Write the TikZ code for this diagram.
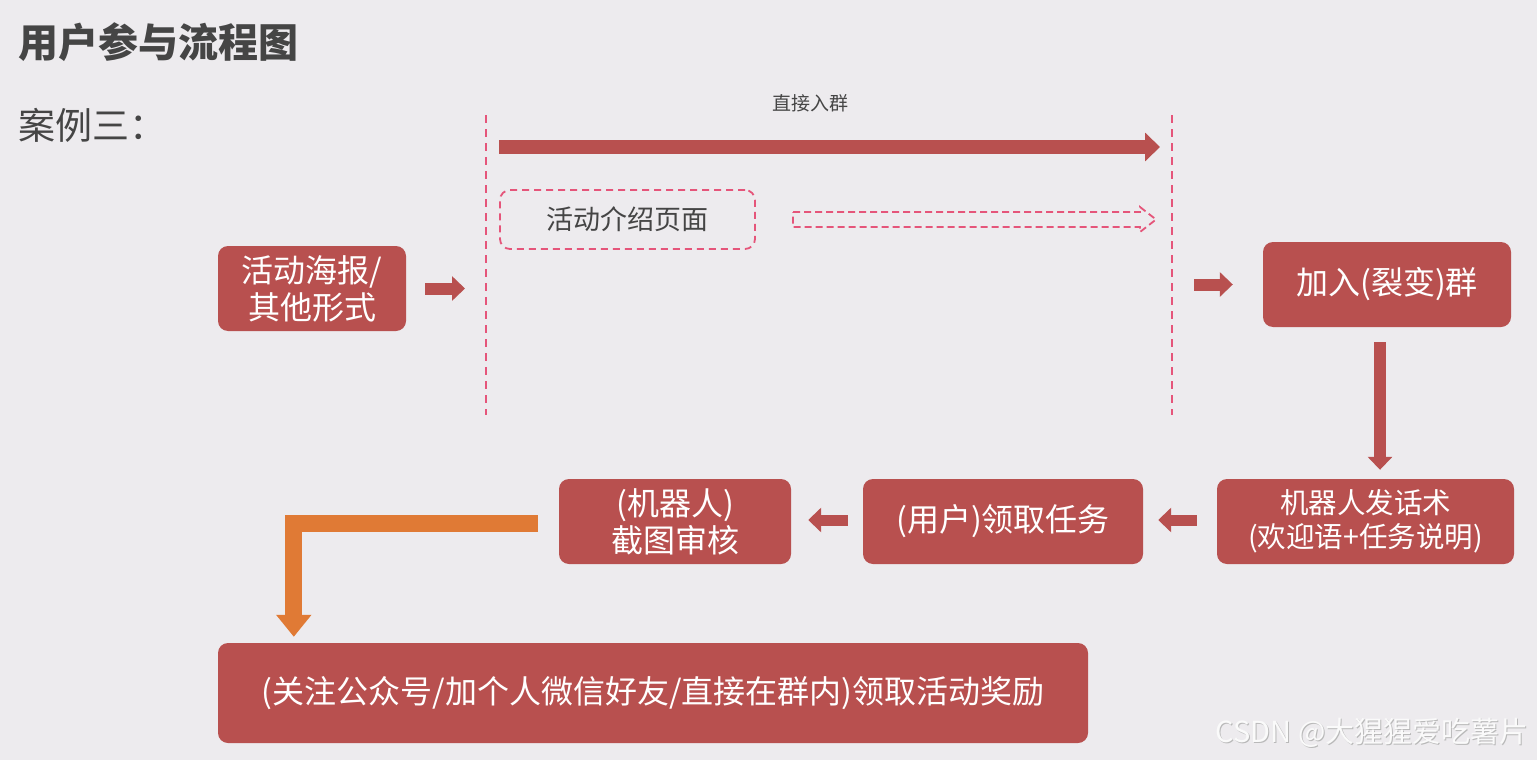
\documentclass[tikz,border=0pt]{standalone}
\usepackage{fontspec}
\setmainfont{Noto Sans CJK SC}
\usetikzlibrary{arrows.meta}
\definecolor{bgc}{HTML}{EDEBEE}
\definecolor{boxred}{HTML}{B8504F}
\definecolor{pinkd}{HTML}{E5557A}
\definecolor{orangeA}{HTML}{E07A35}
\definecolor{txtgray}{HTML}{454545}
\tikzset{
  redbox/.style={draw=none, fill=boxred, rounded corners=10pt, text=white, align=center,
    font=\fontsize{32}{37}\selectfont, inner sep=0pt},
  dashbox/.style={draw=pinkd, dashed, dash pattern=on 7pt off 5pt, line width=1.8pt, rounded corners=10pt,
    text=txtgray, font=\fontsize{27}{30}\selectfont, inner sep=0pt},
  vline/.style={draw=pinkd, line width=1.8pt, dash pattern=on 8pt off 6pt},
  smallarr/.style={draw=boxred, line width=12pt, -{Triangle[length=13pt,width=24pt]}},
  bigarr/.style={draw=boxred, line width=14pt, -{Triangle[length=15pt,width=28pt]}},
  oarr/.style={draw=orangeA, line width=17pt, line join=miter, -{Triangle[length=22pt,width=34pt]}},
  wmtext/.style={anchor=east, font=\fontsize{29}{32}\selectfont},
}
\begin{document}
\begin{tikzpicture}[x=1pt,y=-1pt]
\useasboundingbox (0,0) rectangle (1537,760);
\fill[bgc] (0,0) rectangle (1537,760);

% titles
\node[anchor=west, text=txtgray, font=\fontsize{40}{44}\selectfont\bfseries] (title) at (15,42) {用户参与流程图};
\node[anchor=west, text=txtgray, font=\fontsize{37}{42}\selectfont] (case) at (15,125) {案例三：};
\node[text=txtgray, font=\fontsize{19}{22}\selectfont] (direct) at (810,103) {直接入群};

% dashed verticals
\coordinate (Ltop) at (486,115);
\coordinate (Lbot) at (486,415);
\coordinate (Rtop) at (1172,115);
\coordinate (Rbot) at (1172,415);
\draw[vline] (Ltop) -- (Lbot);
\draw[vline] (Rtop) -- (Rbot);

% big top arrow
\coordinate (BAs) at (499,147);
\coordinate (BAe) at (1160,147);
\draw[bigarr] (BAs) -- (BAe);

% boxes
\node[redbox, minimum width=188pt, minimum height=85pt] (poster) at (312,288.5) {活动海报/\\其他形式};
\node[redbox, minimum width=248pt, minimum height=85pt] (group) at (1387,284.5) {加入(裂变)群};
\node[redbox, minimum width=297pt, minimum height=85pt, font=\fontsize{28.5}{34}\selectfont] (robot) at (1365.5,521.5) {机器人发话术\\(欢迎语+任务说明)};
\node[redbox, minimum width=280pt, minimum height=85pt] (task) at (1003,521.5) {(用户)领取任务};
\node[redbox, minimum width=232pt, minimum height=85pt] (review) at (675,521.5) {(机器人)\\截图审核};
\node[redbox, minimum width=870pt, minimum height=100pt] (reward) at (653,693) {(关注公众号/加个人微信好友/直接在群内)领取活动奖励};
\node[dashbox, minimum width=255pt, minimum height=59pt] (intro) at (627.5,219.5) {活动介绍页面};

% dashed outline arrow
\coordinate (d1) at (793,212);
\coordinate (d2) at (1140,212);
\coordinate (d3) at (1140,207);
\coordinate (d4) at (1156,219.5);
\coordinate (d5) at (1140,232);
\coordinate (d6) at (1140,227);
\coordinate (d7) at (793,227);
\draw[draw=pinkd, line width=1.8pt, dash pattern=on 7pt off 4pt, line join=miter] (d1) -- (d2) -- (d3) -- (d4) -- (d5) -- (d6) -- (d7) -- cycle;

% small arrows
\draw[smallarr, shorten <=19pt, shorten >=21pt] (poster.east) -- (poster.east -| Ltop);
\draw[smallarr, shorten <=22pt, shorten >=30pt] (group.west -| Rtop) -- (group.west);
\draw[smallarr, shorten <=15pt, shorten >=9pt] ([xshift=-7pt]group.south) -- ([xshift=-7pt]group.south |- robot.north);
\draw[smallarr, line width=11pt, shorten <=20pt, shorten >=15pt] ([yshift=1.5pt]robot.west) -- ([yshift=1.5pt]task.east);
\draw[smallarr, line width=11pt, shorten <=15pt, shorten >=17pt] ([yshift=1.5pt]task.west) -- ([yshift=1.5pt]review.east);

% orange elbow
\draw[oarr] ([xshift=-21pt,yshift=-1.5pt]review.west) -| ([xshift=76pt,yshift=6pt]reward.north west);

% watermark (embossed look)
\node[wmtext, text=gray!55] (wmshadow) at (1533.2,734.2) {CSDN @大猩猩爱吃薯片};
\node[wmtext, text=white!96!gray] (wm) at (1532,733) {CSDN @大猩猩爱吃薯片};
\end{tikzpicture}
\end{document}
